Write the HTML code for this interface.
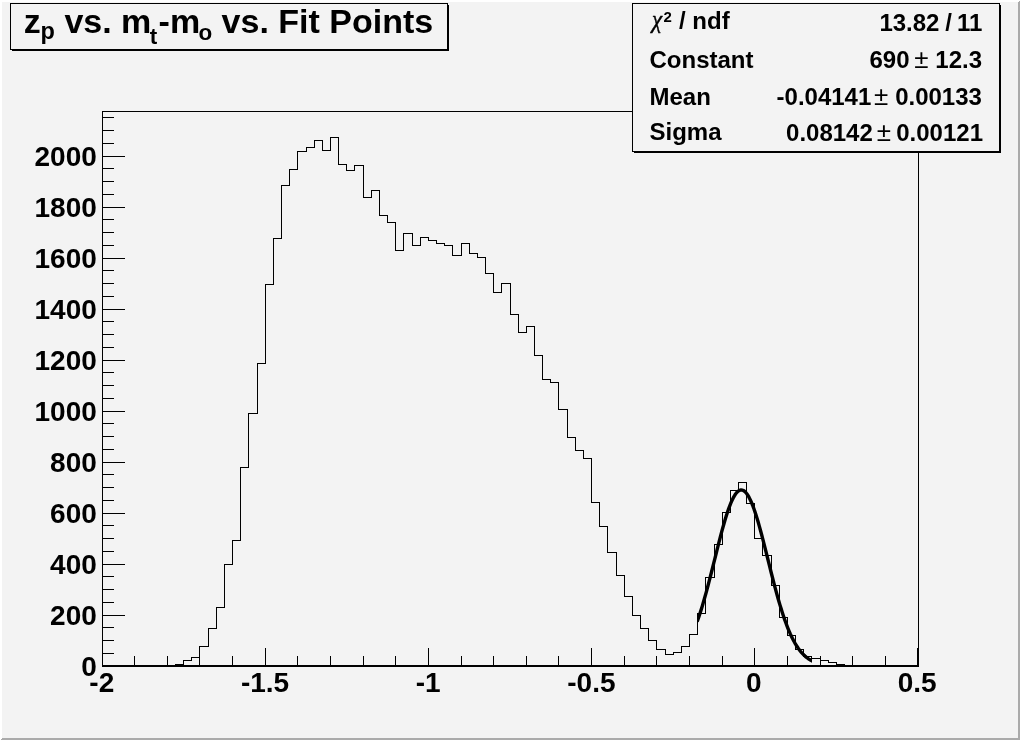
<!DOCTYPE html>
<html><head><meta charset="utf-8"><title>z_p vs. m_t-m_o vs. Fit Points</title>
<style>
html,body{margin:0;padding:0;background:#f3f3f3;}
body{width:1020px;height:740px;overflow:hidden;}
svg{display:block;font-family:"Liberation Sans",sans-serif;font-weight:bold;fill:#000;}
.ax{font-size:28px;}
.st{font-size:24px;}
.ti{font-size:34px;}
.sub{font-size:22.5px;}
.sym{font-family:"Liberation Sans",sans-serif;font-weight:normal;font-size:26px;}
.chi{font-family:"Liberation Serif","DejaVu Serif",serif;font-weight:normal;font-style:italic;font-size:25px;stroke:#000;stroke-width:0.45px;}
</style></head><body>
<svg width="1020" height="740" viewBox="0 0 1020 740">
<rect x="0" y="0" width="1020" height="740" fill="#f3f3f3"/>
<g shape-rendering="crispEdges">
<!-- canvas bevel -->
<polygon points="0,0 1020,0 1018,2 2,2 2,738 0,740" fill="#ffffff"/>
<polygon points="1020,0 1020,740 0,740 2,738 1018,738 1018,2" fill="#aaaaaa"/>
<!-- frame -->
<rect x="102.5" y="111.5" width="816" height="555" fill="none" stroke="#000" stroke-width="1"/>
<rect x="102" y="665" width="817" height="2" fill="#000"/>
<g fill="#000">
<rect x="102" y="648" width="1" height="17"/>
<rect x="134" y="656" width="1" height="9"/>
<rect x="167" y="656" width="1" height="9"/>
<rect x="199" y="656" width="1" height="9"/>
<rect x="232" y="656" width="1" height="9"/>
<rect x="265" y="648" width="1" height="17"/>
<rect x="297" y="656" width="1" height="9"/>
<rect x="330" y="656" width="1" height="9"/>
<rect x="363" y="656" width="1" height="9"/>
<rect x="395" y="656" width="1" height="9"/>
<rect x="428" y="648" width="1" height="17"/>
<rect x="461" y="656" width="1" height="9"/>
<rect x="493" y="656" width="1" height="9"/>
<rect x="526" y="656" width="1" height="9"/>
<rect x="558" y="656" width="1" height="9"/>
<rect x="591" y="648" width="1" height="17"/>
<rect x="624" y="656" width="1" height="9"/>
<rect x="656" y="656" width="1" height="9"/>
<rect x="689" y="656" width="1" height="9"/>
<rect x="722" y="656" width="1" height="9"/>
<rect x="754" y="648" width="1" height="17"/>
<rect x="787" y="656" width="1" height="9"/>
<rect x="820" y="656" width="1" height="9"/>
<rect x="852" y="656" width="1" height="9"/>
<rect x="885" y="656" width="1" height="9"/>
<rect x="917" y="648" width="1" height="17"/>
<rect x="102" y="653" width="12" height="1"/>
<rect x="102" y="640" width="12" height="1"/>
<rect x="102" y="627" width="12" height="1"/>
<rect x="102" y="615" width="23" height="1"/>
<rect x="102" y="602" width="12" height="1"/>
<rect x="102" y="589" width="12" height="1"/>
<rect x="102" y="576" width="12" height="1"/>
<rect x="102" y="564" width="23" height="1"/>
<rect x="102" y="551" width="12" height="1"/>
<rect x="102" y="538" width="12" height="1"/>
<rect x="102" y="525" width="12" height="1"/>
<rect x="102" y="513" width="23" height="1"/>
<rect x="102" y="500" width="12" height="1"/>
<rect x="102" y="487" width="12" height="1"/>
<rect x="102" y="474" width="12" height="1"/>
<rect x="102" y="462" width="23" height="1"/>
<rect x="102" y="449" width="12" height="1"/>
<rect x="102" y="436" width="12" height="1"/>
<rect x="102" y="423" width="12" height="1"/>
<rect x="102" y="411" width="23" height="1"/>
<rect x="102" y="398" width="12" height="1"/>
<rect x="102" y="385" width="12" height="1"/>
<rect x="102" y="372" width="12" height="1"/>
<rect x="102" y="360" width="23" height="1"/>
<rect x="102" y="347" width="12" height="1"/>
<rect x="102" y="334" width="12" height="1"/>
<rect x="102" y="321" width="12" height="1"/>
<rect x="102" y="309" width="23" height="1"/>
<rect x="102" y="296" width="12" height="1"/>
<rect x="102" y="283" width="12" height="1"/>
<rect x="102" y="270" width="12" height="1"/>
<rect x="102" y="258" width="23" height="1"/>
<rect x="102" y="245" width="12" height="1"/>
<rect x="102" y="232" width="12" height="1"/>
<rect x="102" y="219" width="12" height="1"/>
<rect x="102" y="207" width="23" height="1"/>
<rect x="102" y="194" width="12" height="1"/>
<rect x="102" y="181" width="12" height="1"/>
<rect x="102" y="168" width="12" height="1"/>
<rect x="102" y="156" width="23" height="1"/>
<rect x="102" y="143" width="12" height="1"/>
<rect x="102" y="130" width="12" height="1"/>
<rect x="102" y="117" width="12" height="1"/>
</g>
<path d="M102.5 665.5 H110.5 H118.5 H126.5 H134.5 H142.5 H150.5 H159.5 H167.5 H175.5 V664.5 H183.5 V660.5 H191.5 V657.5 H199.5 V646.5 H208.5 V628.5 H216.5 V607.5 H224.5 V564.5 H232.5 V540.5 H240.5 V467.5 H248.5 V413.5 H257.5 V363.5 H265.5 V284.5 H273.5 V238.5 H281.5 V185.5 H289.5 V169.5 H297.5 V151.5 H306.5 V147.5 H314.5 V140.5 H322.5 V150.5 H330.5 V137.5 H338.5 V164.5 H346.5 V170.5 H354.5 V165.5 H363.5 V197.5 H371.5 V190.5 H379.5 V215.5 H387.5 V222.5 H395.5 V250.5 H403.5 V233.5 H412.5 V245.5 H420.5 V237.5 H428.5 V240.5 H436.5 V243.5 H444.5 V245.5 H452.5 V255.5 H461.5 V243.5 H469.5 V253.5 H477.5 V257.5 H485.5 V273.5 H493.5 V292.5 H501.5 V283.5 H510.5 V314.5 H518.5 V332.5 H526.5 V326.5 H534.5 V355.5 H542.5 V379.5 H550.5 V382.5 H558.5 V409.5 H567.5 V437.5 H575.5 V450.5 H583.5 V458.5 H591.5 V502.5 H599.5 V526.5 H607.5 V552.5 H616.5 V575.5 H624.5 V596.5 H632.5 V615.5 H640.5 V628.5 H648.5 V640.5 H656.5 V649.5 H665.5 V654.5 H673.5 V652.5 H681.5 V646.5 H689.5 V634.5 H697.5 V613.5 H705.5 V577.5 H714.5 V544.5 H722.5 V512.5 H730.5 V490.5 H738.5 V482.5 H746.5 V503.5 H754.5 V538.5 H762.5 V555.5 H771.5 V585.5 H779.5 V617.5 H787.5 V635.5 H795.5 V649.5 H803.5 V656.5 H811.5 V658.5 H820.5 V660.5 H828.5 V662.5 H836.5 V664.5 H844.5 V665.5 H852.5 H860.5 H869.5 H877.5 H885.5 H893.5 H901.5 H909.5 H918.5" fill="none" stroke="#000" stroke-width="1"/>
</g>
<clipPath id="fc"><rect x="697.5" y="100" width="114.5" height="570"/></clipPath>
<path d="M697.68 620.19 L698.82 616.88 L699.96 613.44 L701.11 609.86 L702.25 606.15 L703.39 602.30 L704.53 598.34 L705.68 594.26 L706.82 590.08 L707.96 585.80 L709.10 581.44 L710.25 577.00 L711.39 572.51 L712.53 567.97 L713.67 563.39 L714.82 558.81 L715.96 554.22 L717.10 549.65 L718.24 545.12 L719.39 540.65 L720.53 536.25 L721.67 531.94 L722.81 527.75 L723.96 523.69 L725.10 519.78 L726.24 516.04 L727.38 512.49 L728.52 509.14 L729.67 506.02 L730.81 503.13 L731.95 500.50 L733.09 498.14 L734.24 496.06 L735.38 494.27 L736.52 492.78 L737.66 491.61 L738.81 490.74 L739.95 490.20 L741.09 489.99 L742.23 490.09 L743.38 490.53 L744.52 491.28 L745.66 492.35 L746.80 493.74 L747.95 495.43 L749.09 497.41 L750.23 499.68 L751.37 502.22 L752.52 505.02 L753.66 508.06 L754.80 511.34 L755.94 514.82 L757.08 518.50 L758.23 522.35 L759.37 526.37 L760.51 530.52 L761.65 534.79 L762.80 539.16 L763.94 543.61 L765.08 548.12 L766.22 552.68 L767.37 557.26 L768.51 561.85 L769.65 566.43 L770.79 570.98 L771.94 575.49 L773.08 579.95 L774.22 584.34 L775.36 588.65 L776.51 592.86 L777.65 596.98 L778.79 600.98 L779.93 604.87 L781.08 608.62 L782.22 612.25 L783.36 615.74 L784.50 619.09 L785.64 622.30 L786.79 625.36 L787.93 628.28 L789.07 631.05 L790.21 633.68 L791.36 636.17 L792.50 638.52 L793.64 640.72 L794.78 642.80 L795.93 644.74 L797.07 646.56 L798.21 648.25 L799.35 649.83 L800.50 651.29 L801.64 652.65 L802.78 653.90 L803.92 655.06 L805.07 656.12 L806.21 657.10 L807.35 657.99 L808.49 658.81 L809.64 659.56 L810.78 660.24 L811.92 660.85" fill="none" stroke="#000" stroke-width="3.4" stroke-linejoin="round" stroke-linecap="square" clip-path="url(#fc)"/>
<g class="ax">
<text x="96.8" y="676.1" text-anchor="end">0</text>
<text x="96.8" y="625.1" text-anchor="end">200</text>
<text x="96.8" y="574.1" text-anchor="end">400</text>
<text x="96.8" y="523.1" text-anchor="end">600</text>
<text x="96.8" y="472.1" text-anchor="end">800</text>
<text x="96.8" y="421.1" text-anchor="end">1000</text>
<text x="96.8" y="370.1" text-anchor="end">1200</text>
<text x="96.8" y="319.1" text-anchor="end">1400</text>
<text x="96.8" y="268.1" text-anchor="end">1600</text>
<text x="96.8" y="217.1" text-anchor="end">1800</text>
<text x="96.8" y="166.1" text-anchor="end">2000</text>
<text x="101.8" y="692.3" text-anchor="middle">-2</text>
<text x="265.0" y="692.3" text-anchor="middle">-1.5</text>
<text x="428.2" y="692.3" text-anchor="middle">-1</text>
<text x="591.4" y="692.3" text-anchor="middle">-0.5</text>
<text x="753.9" y="692.3" text-anchor="middle">0</text>
<text x="917.1" y="692.3" text-anchor="middle">0.5</text>
</g>
<!-- title box -->
<g shape-rendering="crispEdges">
<rect x="10.5" y="3.5" width="437" height="46" fill="#f3f3f3" stroke="#000" stroke-width="1"/>
<rect x="12" y="50" width="437" height="1" fill="#000"/>
<rect x="448" y="5" width="1" height="46" fill="#000"/>
</g>
<g class="ti">
<text x="23.7" y="33">z</text>
<text class="sub" x="40.6" y="39.1" style="font-size:23.5px">p</text>
<text x="64.4" y="33">vs. m</text>
<text class="sub" x="149.7" y="43.6">t</text>
<text x="158.6" y="33">-m</text>
<text class="sub" x="198.4" y="39.5">o</text>
<text x="221.6" y="33">vs. Fit Points</text>
</g>
<!-- stats box -->
<g shape-rendering="crispEdges">
<rect x="632.5" y="3.5" width="367" height="148" fill="#f3f3f3" stroke="#000" stroke-width="1"/>
<rect x="634" y="152" width="367" height="1" fill="#000"/>
<rect x="1000" y="5" width="1" height="148" fill="#000"/>
</g>
<g class="st">
<text class="chi" x="0" y="28.5" transform="translate(651.9 0) scale(0.92 1)">χ</text>
<text x="663.6" y="21.5" style="font-size:15px">2</text>
<text x="679" y="28.6">/ ndf</text>
<text x="879.4" y="30.9">13.82</text><text x="945.3" y="30.9">/</text><text x="982.3" y="30.9" text-anchor="end">11</text>
<text x="649.5" y="68">Constant</text>
<text x="909.5" y="67.7" text-anchor="end">690</text>
<text class="sym" x="921.3" y="67.7" text-anchor="middle">±</text>
<text x="982" y="67.7" text-anchor="end">12.3</text>
<text x="649.5" y="104.6">Mean</text>
<text x="871.3" y="104.9" text-anchor="end">-0.04141</text>
<text class="sym" x="881.2" y="104.9" text-anchor="middle">±</text>
<text x="981.9" y="104.9" text-anchor="end">0.00133</text>
<text x="649.5" y="139.6">Sigma</text>
<text x="872.8" y="140.9" text-anchor="end">0.08142</text>
<text class="sym" x="884" y="140.9" text-anchor="middle">±</text>
<text x="983" y="140.9" text-anchor="end">0.00121</text>
</g>
</svg>
</body></html>
